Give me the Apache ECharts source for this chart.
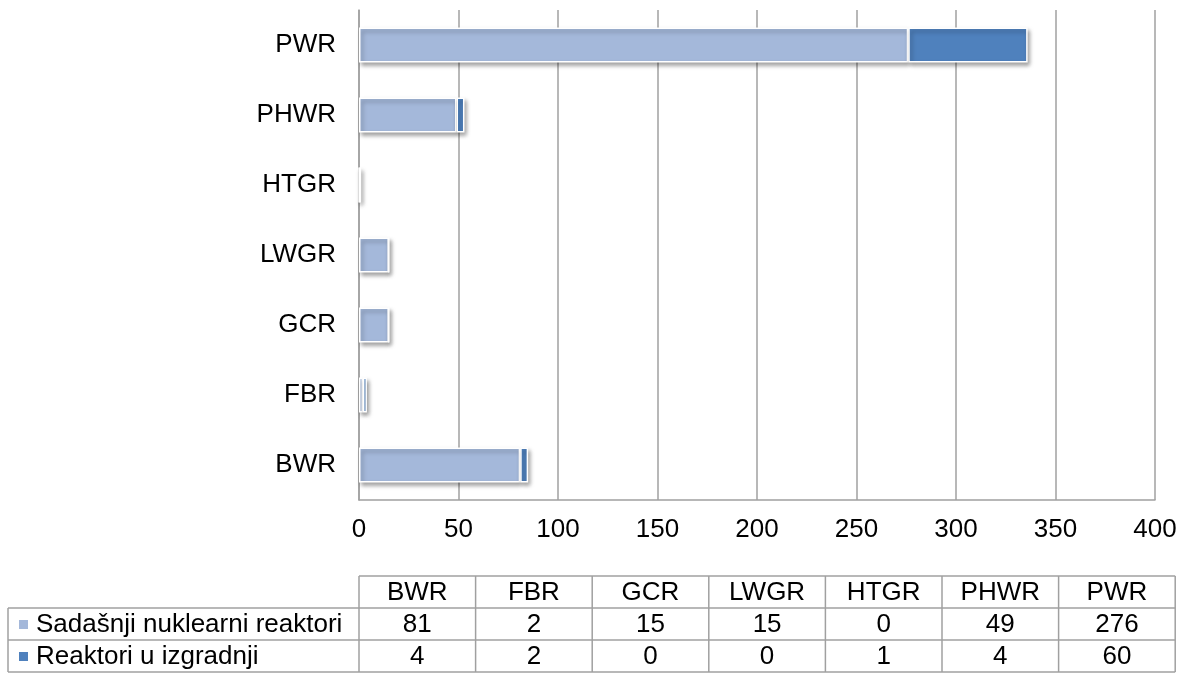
<!DOCTYPE html>
<html>
<head>
<meta charset="utf-8">
<script src="https://cdn.jsdelivr.net/npm/echarts@6/dist/echarts.min.js"></script>
<style>
  html, body { margin: 0; padding: 0; background: #fff; }
  #main { width: 1187px; height: 696px; }
</style>
</head>
<body>
<div id="main"></div>
<script>
// podaci
var reactorTypes = ['BWR', 'FBR', 'GCR', 'LWGR', 'HTGR', 'PHWR', 'PWR'];
var seriesNames = ['Sadašnji nuklearni reaktori', 'Reaktori u izgradnji'];
var currentReactors = [81, 2, 15, 15, 0, 49, 276];
var underConstruction = [4, 2, 0, 0, 1, 4, 60];
var axisTicks = [0, 50, 100, 150, 200, 250, 300, 350, 400];

var colors = ['#A4B8DA', '#4F81BD'];
var lineColor = '#A0A0A0';
var fontFam = '"Liberation Sans", Arial, sans-serif';

var myChart = echarts.init(document.getElementById('main'));

var barStyle = function (c) {
    return {
        color: c,
        borderColor: '#fff',
        borderWidth: 1.5,
        shadowBlur: 4,
        shadowColor: 'rgba(0,0,0,0.35)',
        shadowOffsetX: 2,
        shadowOffsetY: 3
    };
};

// tablica ispod grafa
var tbl = {x0: 359, colW: 116.6, legX: 8, rows: [576, 608, 640, 672]};
var graphic = [];
function hline(x1, x2, y) {
    graphic.push({type: 'line', shape: {x1: x1, y1: y, x2: x2, y2: y},
        style: {stroke: lineColor, lineWidth: 1.5}, silent: true});
}
function vline(x, y1, y2) {
    graphic.push({type: 'line', shape: {x1: x, y1: y1, x2: x, y2: y2},
        style: {stroke: lineColor, lineWidth: 1.5}, silent: true});
}
function txt(x, y, s, align) {
    graphic.push({type: 'text', x: x, y: y, silent: true,
        style: {text: s, fill: '#000', font: '26px ' + fontFam,
            align: align || 'center', verticalAlign: 'middle'}});
}
var xEnd = tbl.x0 + tbl.colW * reactorTypes.length;
hline(tbl.x0, xEnd, tbl.rows[0]);
hline(tbl.legX, xEnd, tbl.rows[1]);
hline(tbl.legX, xEnd, tbl.rows[2]);
hline(tbl.legX, xEnd, tbl.rows[3]);
vline(tbl.legX, tbl.rows[1], tbl.rows[3]);
for (var c = 0; c <= reactorTypes.length; c++) {
    vline(tbl.x0 + c * tbl.colW, tbl.rows[0], tbl.rows[3]);
}
var tableRows = [currentReactors, underConstruction];
reactorTypes.forEach(function (t, i) {
    var cx = tbl.x0 + (i + 0.5) * tbl.colW;
    txt(cx, (tbl.rows[0] + tbl.rows[1]) / 2 + 1, t);
    tableRows.forEach(function (r, j) {
        txt(cx, (tbl.rows[j + 1] + tbl.rows[j + 2]) / 2 + 1, String(r[i]));
    });
});
seriesNames.forEach(function (n, j) {
    var cy = (tbl.rows[j + 1] + tbl.rows[j + 2]) / 2;
    graphic.push({type: 'rect', shape: {x: 19, y: cy - 4, width: 9, height: 9},
        style: {fill: colors[j]}, silent: true});
    txt(36, cy + 1, n, 'left');
});

var option = {
    animation: false,
    grid: {left: 359, right: 32, top: 10, bottom: 196, containLabel: false},
    xAxis: {
        type: 'value',
        min: axisTicks[0],
        max: axisTicks[axisTicks.length - 1],
        interval: axisTicks[1] - axisTicks[0],
        axisLine: {show: true, lineStyle: {color: lineColor, width: 1.5}},
        axisTick: {show: false},
        splitLine: {show: true, lineStyle: {color: lineColor, width: 1.5}},
        axisLabel: {color: '#000', fontSize: 26, fontFamily: fontFam, margin: 17}
    },
    yAxis: {
        type: 'category',
        data: reactorTypes,
        axisLine: {show: true, lineStyle: {color: lineColor, width: 1.5}},
        axisTick: {show: false},
        splitLine: {show: false},
        axisLabel: {color: '#000', fontSize: 26, fontFamily: fontFam, margin: 23}
    },
    series: [{
        name: seriesNames[0],
        type: 'bar',
        stack: 'r',
        barWidth: '50%',
        data: currentReactors,
        itemStyle: barStyle(colors[0])
    }, {
        name: seriesNames[1],
        type: 'bar',
        stack: 'r',
        barWidth: '50%',
        data: underConstruction,
        itemStyle: barStyle(colors[1])
    }],
    graphic: graphic
};
myChart.setOption(option);
</script>
</body>
</html>
